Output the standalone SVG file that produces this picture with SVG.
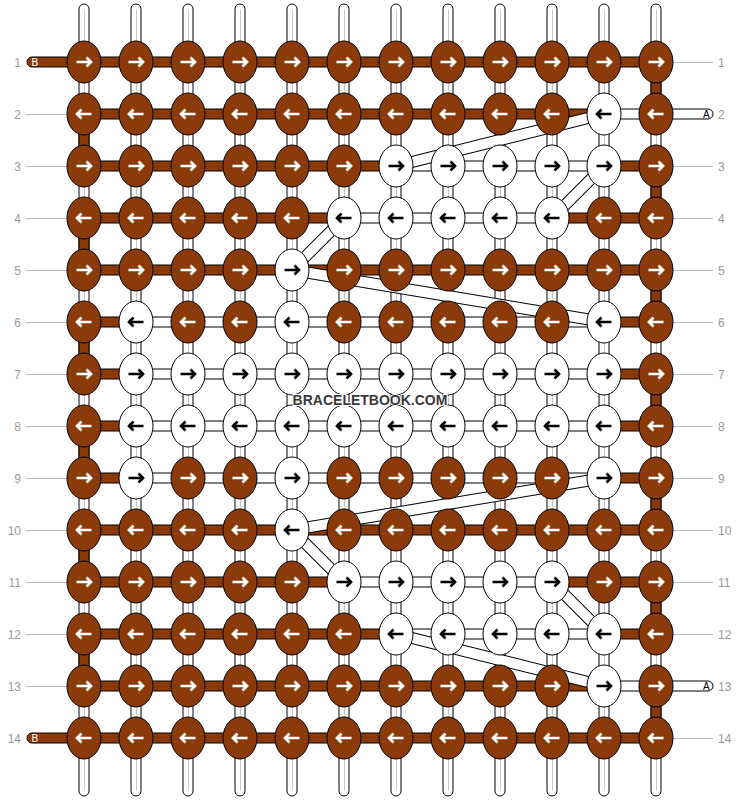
<svg xmlns="http://www.w3.org/2000/svg" width="740" height="800" viewBox="0 0 740 800">
<style>
.kb ellipse{fill:#8b3a0a;stroke:#000;stroke-width:1}
.kw ellipse{fill:#fff;stroke:#000;stroke-width:1}
.kb use{stroke:#fff}
.kw use{stroke:#000}
.sb{fill:#8b3a0a;stroke:#000;stroke-width:1}
.sw{fill:#fff;stroke:#000;stroke-width:1}
.vg{stroke:#c8c8c8;stroke-width:1}
.rl{stroke:#bbb;stroke-width:1}
.bo{fill:none;stroke:#000;stroke-width:12}
.bi{fill:none;stroke:#fff;stroke-width:10}
.lbl{font-family:"Liberation Sans",Arial,sans-serif;font-size:12px;fill:#999}
.tl{font-family:"Liberation Sans",Arial,sans-serif;font-size:10px}
.wm{font-family:"Liberation Sans",Arial,sans-serif;font-size:14px;font-weight:bold;fill:#3a3a3a;stroke:#fff;stroke-width:2;paint-order:stroke}
</style>
<defs>
<path id="ar" d="M-7.5 0H7M2.5-4.5L7 0L2.5 4.5" fill="none" stroke-width="2.6"/>
<path id="al" d="M7.5 0H-7M-2.5-4.5L-7 0L-2.5 4.5" fill="none" stroke-width="2.6"/>
</defs>
<rect width="740" height="800" fill="#fff"/>
<g id="row-labels">
<g class="rl">
<line x1="673" y1="62.5" x2="713" y2="62.5"/>
<line x1="26" y1="114.5" x2="67" y2="114.5"/>
<line x1="26" y1="166.5" x2="67" y2="166.5"/><line x1="673" y1="166.5" x2="713" y2="166.5"/>
<line x1="26" y1="218.5" x2="67" y2="218.5"/><line x1="673" y1="218.5" x2="713" y2="218.5"/>
<line x1="26" y1="270.5" x2="67" y2="270.5"/><line x1="673" y1="270.5" x2="713" y2="270.5"/>
<line x1="26" y1="322.5" x2="67" y2="322.5"/><line x1="673" y1="322.5" x2="713" y2="322.5"/>
<line x1="26" y1="374.5" x2="67" y2="374.5"/><line x1="673" y1="374.5" x2="713" y2="374.5"/>
<line x1="26" y1="426.5" x2="67" y2="426.5"/><line x1="673" y1="426.5" x2="713" y2="426.5"/>
<line x1="26" y1="478.5" x2="67" y2="478.5"/><line x1="673" y1="478.5" x2="713" y2="478.5"/>
<line x1="26" y1="530.5" x2="67" y2="530.5"/><line x1="673" y1="530.5" x2="713" y2="530.5"/>
<line x1="26" y1="582.5" x2="67" y2="582.5"/><line x1="673" y1="582.5" x2="713" y2="582.5"/>
<line x1="26" y1="634.5" x2="67" y2="634.5"/><line x1="673" y1="634.5" x2="713" y2="634.5"/>
<line x1="26" y1="686.5" x2="67" y2="686.5"/>
<line x1="673" y1="738.5" x2="713" y2="738.5"/>
</g>
<g class="lbl" text-anchor="end">
<text x="21" y="66.5">1</text><text x="21" y="118.5">2</text><text x="21" y="170.5">3</text><text x="21" y="222.5">4</text><text x="21" y="274.5">5</text><text x="21" y="326.5">6</text><text x="21" y="378.5">7</text><text x="21" y="430.5">8</text><text x="21" y="482.5">9</text><text x="21" y="534.5">10</text><text x="21" y="586.5">11</text><text x="21" y="638.5">12</text><text x="21" y="690.5">13</text><text x="21" y="742.5">14</text>
</g>
<g class="lbl">
<text x="718" y="66.5">1</text><text x="718" y="118.5">2</text><text x="718" y="170.5">3</text><text x="718" y="222.5">4</text><text x="718" y="274.5">5</text><text x="718" y="326.5">6</text><text x="718" y="378.5">7</text><text x="718" y="430.5">8</text><text x="718" y="482.5">9</text><text x="718" y="534.5">10</text><text x="718" y="586.5">11</text><text x="718" y="638.5">12</text><text x="718" y="690.5">13</text><text x="718" y="742.5">14</text>
</g>
</g>
<g id="connectors">
<g id="vertical-strands">
<rect class="sw" x="79" y="4" width="10" height="792" rx="5"/>
<rect class="sw" x="131" y="4" width="10" height="792" rx="5"/>
<rect class="sw" x="183" y="4" width="10" height="792" rx="5"/>
<rect class="sw" x="235" y="4" width="10" height="792" rx="5"/>
<rect class="sw" x="287" y="4" width="10" height="792" rx="5"/>
<rect class="sw" x="339" y="4" width="10" height="792" rx="5"/>
<rect class="sw" x="391" y="4" width="10" height="792" rx="5"/>
<rect class="sw" x="443" y="4" width="10" height="792" rx="5"/>
<rect class="sw" x="495" y="4" width="10" height="792" rx="5"/>
<rect class="sw" x="547" y="4" width="10" height="792" rx="5"/>
<rect class="sw" x="599" y="4" width="10" height="792" rx="5"/>
<rect class="sw" x="651" y="4" width="10" height="792" rx="5"/>
<g class="vg">
<line x1="84.5" y1="10" x2="84.5" y2="790"/>
<line x1="136.5" y1="10" x2="136.5" y2="790"/>
<line x1="188.5" y1="10" x2="188.5" y2="790"/>
<line x1="240.5" y1="10" x2="240.5" y2="790"/>
<line x1="292.5" y1="10" x2="292.5" y2="790"/>
<line x1="344.5" y1="10" x2="344.5" y2="790"/>
<line x1="396.5" y1="10" x2="396.5" y2="790"/>
<line x1="448.5" y1="10" x2="448.5" y2="790"/>
<line x1="500.5" y1="10" x2="500.5" y2="790"/>
<line x1="552.5" y1="10" x2="552.5" y2="790"/>
<line x1="604.5" y1="10" x2="604.5" y2="790"/>
<line x1="656.5" y1="10" x2="656.5" y2="790"/>
</g>
<rect class="sb" x="79" y="126" width="10" height="28"/>
<rect class="sb" x="79" y="230" width="10" height="28"/>
<rect class="sb" x="79" y="334" width="10" height="28"/>
<rect class="sb" x="79" y="438" width="10" height="28"/>
<rect class="sb" x="79" y="542" width="10" height="28"/>
<rect class="sb" x="79" y="646" width="10" height="28"/>
<rect class="sb" x="651" y="74" width="10" height="28"/>
<rect class="sb" x="651" y="178" width="10" height="28"/>
<rect class="sb" x="651" y="282" width="10" height="28"/>
<rect class="sb" x="651" y="386" width="10" height="28"/>
<rect class="sb" x="651" y="490" width="10" height="28"/>
<rect class="sb" x="651" y="594" width="10" height="28"/>
<rect class="sb" x="651" y="698" width="10" height="28"/>
</g>
<g id="horizontal-strands">
<rect class="sb" x="27" y="57" width="629" height="10" rx="5"/>
<rect class="sb" x="84" y="109" width="520" height="10"/>
<rect class="sw" x="604" y="109" width="109" height="10" rx="5"/>
<rect class="sb" x="84" y="161" width="312" height="10"/>
<rect class="sw" x="396" y="161" width="208" height="10"/>
<rect class="sb" x="604" y="161" width="52" height="10"/>
<rect class="sb" x="84" y="213" width="260" height="10"/>
<rect class="sw" x="344" y="213" width="208" height="10"/>
<rect class="sb" x="552" y="213" width="104" height="10"/>
<rect class="sb" x="84" y="265" width="572" height="10"/>
<rect class="sb" x="84" y="317" width="52" height="10"/>
<rect class="sw" x="136" y="317" width="468" height="10"/>
<rect class="sb" x="604" y="317" width="52" height="10"/>
<rect class="sb" x="84" y="369" width="52" height="10"/>
<rect class="sw" x="136" y="369" width="468" height="10"/>
<rect class="sb" x="604" y="369" width="52" height="10"/>
<rect class="sb" x="84" y="421" width="52" height="10"/>
<rect class="sw" x="136" y="421" width="468" height="10"/>
<rect class="sb" x="604" y="421" width="52" height="10"/>
<rect class="sb" x="84" y="473" width="52" height="10"/>
<rect class="sw" x="136" y="473" width="468" height="10"/>
<rect class="sb" x="604" y="473" width="52" height="10"/>
<rect class="sb" x="84" y="525" width="572" height="10"/>
<rect class="sb" x="84" y="577" width="260" height="10"/>
<rect class="sw" x="344" y="577" width="208" height="10"/>
<rect class="sb" x="552" y="577" width="104" height="10"/>
<rect class="sb" x="84" y="629" width="312" height="10"/>
<rect class="sw" x="396" y="629" width="208" height="10"/>
<rect class="sb" x="604" y="629" width="52" height="10"/>
<rect class="sb" x="84" y="681" width="520" height="10"/>
<rect class="sw" x="604" y="681" width="109" height="10" rx="5"/>
<rect class="sb" x="27" y="733" width="629" height="10" rx="5"/>
<text class="tl" x="31.5" y="66" fill="#fff">B</text>
<text class="tl" x="31.5" y="742" fill="#fff">B</text>
<text class="tl" x="703" y="118" fill="#000">A</text>
<text class="tl" x="703" y="690" fill="#000">A</text>
</g>
<g id="carried-strands">
<path class="bo" d="M604 114L396 166M604 166L552 218M344 218L292 270M292 270L604 322M604 478L292 530M292 530L344 582M552 582L604 634M396 634L604 686"/>
<path class="bi" d="M604 114L396 166M604 166L552 218M344 218L292 270M292 270L604 322M604 478L292 530M292 530L344 582M552 582L604 634M396 634L604 686"/>
</g>
</g>
<g id="knots">
<g id="k1-1" class="kb" transform="translate(84,62)"><ellipse rx="17" ry="21"/><use href="#ar"/></g>
<g id="k1-2" class="kb" transform="translate(136,62)"><ellipse rx="17" ry="21"/><use href="#ar"/></g>
<g id="k1-3" class="kb" transform="translate(188,62)"><ellipse rx="17" ry="21"/><use href="#ar"/></g>
<g id="k1-4" class="kb" transform="translate(240,62)"><ellipse rx="17" ry="21"/><use href="#ar"/></g>
<g id="k1-5" class="kb" transform="translate(292,62)"><ellipse rx="17" ry="21"/><use href="#ar"/></g>
<g id="k1-6" class="kb" transform="translate(344,62)"><ellipse rx="17" ry="21"/><use href="#ar"/></g>
<g id="k1-7" class="kb" transform="translate(396,62)"><ellipse rx="17" ry="21"/><use href="#ar"/></g>
<g id="k1-8" class="kb" transform="translate(448,62)"><ellipse rx="17" ry="21"/><use href="#ar"/></g>
<g id="k1-9" class="kb" transform="translate(500,62)"><ellipse rx="17" ry="21"/><use href="#ar"/></g>
<g id="k1-10" class="kb" transform="translate(552,62)"><ellipse rx="17" ry="21"/><use href="#ar"/></g>
<g id="k1-11" class="kb" transform="translate(604,62)"><ellipse rx="17" ry="21"/><use href="#ar"/></g>
<g id="k1-12" class="kb" transform="translate(656,62)"><ellipse rx="17" ry="21"/><use href="#ar"/></g>
<g id="k2-1" class="kb" transform="translate(84,114)"><ellipse rx="17" ry="21"/><use href="#al"/></g>
<g id="k2-2" class="kb" transform="translate(136,114)"><ellipse rx="17" ry="21"/><use href="#al"/></g>
<g id="k2-3" class="kb" transform="translate(188,114)"><ellipse rx="17" ry="21"/><use href="#al"/></g>
<g id="k2-4" class="kb" transform="translate(240,114)"><ellipse rx="17" ry="21"/><use href="#al"/></g>
<g id="k2-5" class="kb" transform="translate(292,114)"><ellipse rx="17" ry="21"/><use href="#al"/></g>
<g id="k2-6" class="kb" transform="translate(344,114)"><ellipse rx="17" ry="21"/><use href="#al"/></g>
<g id="k2-7" class="kb" transform="translate(396,114)"><ellipse rx="17" ry="21"/><use href="#al"/></g>
<g id="k2-8" class="kb" transform="translate(448,114)"><ellipse rx="17" ry="21"/><use href="#al"/></g>
<g id="k2-9" class="kb" transform="translate(500,114)"><ellipse rx="17" ry="21"/><use href="#al"/></g>
<g id="k2-10" class="kb" transform="translate(552,114)"><ellipse rx="17" ry="21"/><use href="#al"/></g>
<g id="k2-11" class="kw" transform="translate(604,114)"><ellipse rx="17" ry="21"/><use href="#al"/></g>
<g id="k2-12" class="kb" transform="translate(656,114)"><ellipse rx="17" ry="21"/><use href="#al"/></g>
<g id="k3-1" class="kb" transform="translate(84,166)"><ellipse rx="17" ry="21"/><use href="#ar"/></g>
<g id="k3-2" class="kb" transform="translate(136,166)"><ellipse rx="17" ry="21"/><use href="#ar"/></g>
<g id="k3-3" class="kb" transform="translate(188,166)"><ellipse rx="17" ry="21"/><use href="#ar"/></g>
<g id="k3-4" class="kb" transform="translate(240,166)"><ellipse rx="17" ry="21"/><use href="#ar"/></g>
<g id="k3-5" class="kb" transform="translate(292,166)"><ellipse rx="17" ry="21"/><use href="#ar"/></g>
<g id="k3-6" class="kb" transform="translate(344,166)"><ellipse rx="17" ry="21"/><use href="#ar"/></g>
<g id="k3-7" class="kw" transform="translate(396,166)"><ellipse rx="17" ry="21"/><use href="#ar"/></g>
<g id="k3-8" class="kw" transform="translate(448,166)"><ellipse rx="17" ry="21"/><use href="#ar"/></g>
<g id="k3-9" class="kw" transform="translate(500,166)"><ellipse rx="17" ry="21"/><use href="#ar"/></g>
<g id="k3-10" class="kw" transform="translate(552,166)"><ellipse rx="17" ry="21"/><use href="#ar"/></g>
<g id="k3-11" class="kw" transform="translate(604,166)"><ellipse rx="17" ry="21"/><use href="#ar"/></g>
<g id="k3-12" class="kb" transform="translate(656,166)"><ellipse rx="17" ry="21"/><use href="#ar"/></g>
<g id="k4-1" class="kb" transform="translate(84,218)"><ellipse rx="17" ry="21"/><use href="#al"/></g>
<g id="k4-2" class="kb" transform="translate(136,218)"><ellipse rx="17" ry="21"/><use href="#al"/></g>
<g id="k4-3" class="kb" transform="translate(188,218)"><ellipse rx="17" ry="21"/><use href="#al"/></g>
<g id="k4-4" class="kb" transform="translate(240,218)"><ellipse rx="17" ry="21"/><use href="#al"/></g>
<g id="k4-5" class="kb" transform="translate(292,218)"><ellipse rx="17" ry="21"/><use href="#al"/></g>
<g id="k4-6" class="kw" transform="translate(344,218)"><ellipse rx="17" ry="21"/><use href="#al"/></g>
<g id="k4-7" class="kw" transform="translate(396,218)"><ellipse rx="17" ry="21"/><use href="#al"/></g>
<g id="k4-8" class="kw" transform="translate(448,218)"><ellipse rx="17" ry="21"/><use href="#al"/></g>
<g id="k4-9" class="kw" transform="translate(500,218)"><ellipse rx="17" ry="21"/><use href="#al"/></g>
<g id="k4-10" class="kw" transform="translate(552,218)"><ellipse rx="17" ry="21"/><use href="#al"/></g>
<g id="k4-11" class="kb" transform="translate(604,218)"><ellipse rx="17" ry="21"/><use href="#al"/></g>
<g id="k4-12" class="kb" transform="translate(656,218)"><ellipse rx="17" ry="21"/><use href="#al"/></g>
<g id="k5-1" class="kb" transform="translate(84,270)"><ellipse rx="17" ry="21"/><use href="#ar"/></g>
<g id="k5-2" class="kb" transform="translate(136,270)"><ellipse rx="17" ry="21"/><use href="#ar"/></g>
<g id="k5-3" class="kb" transform="translate(188,270)"><ellipse rx="17" ry="21"/><use href="#ar"/></g>
<g id="k5-4" class="kb" transform="translate(240,270)"><ellipse rx="17" ry="21"/><use href="#ar"/></g>
<g id="k5-5" class="kw" transform="translate(292,270)"><ellipse rx="17" ry="21"/><use href="#ar"/></g>
<g id="k5-6" class="kb" transform="translate(344,270)"><ellipse rx="17" ry="21"/><use href="#ar"/></g>
<g id="k5-7" class="kb" transform="translate(396,270)"><ellipse rx="17" ry="21"/><use href="#ar"/></g>
<g id="k5-8" class="kb" transform="translate(448,270)"><ellipse rx="17" ry="21"/><use href="#ar"/></g>
<g id="k5-9" class="kb" transform="translate(500,270)"><ellipse rx="17" ry="21"/><use href="#ar"/></g>
<g id="k5-10" class="kb" transform="translate(552,270)"><ellipse rx="17" ry="21"/><use href="#ar"/></g>
<g id="k5-11" class="kb" transform="translate(604,270)"><ellipse rx="17" ry="21"/><use href="#ar"/></g>
<g id="k5-12" class="kb" transform="translate(656,270)"><ellipse rx="17" ry="21"/><use href="#ar"/></g>
<g id="k6-1" class="kb" transform="translate(84,322)"><ellipse rx="17" ry="21"/><use href="#al"/></g>
<g id="k6-2" class="kw" transform="translate(136,322)"><ellipse rx="17" ry="21"/><use href="#al"/></g>
<g id="k6-3" class="kb" transform="translate(188,322)"><ellipse rx="17" ry="21"/><use href="#al"/></g>
<g id="k6-4" class="kb" transform="translate(240,322)"><ellipse rx="17" ry="21"/><use href="#al"/></g>
<g id="k6-5" class="kw" transform="translate(292,322)"><ellipse rx="17" ry="21"/><use href="#al"/></g>
<g id="k6-6" class="kb" transform="translate(344,322)"><ellipse rx="17" ry="21"/><use href="#al"/></g>
<g id="k6-7" class="kb" transform="translate(396,322)"><ellipse rx="17" ry="21"/><use href="#al"/></g>
<g id="k6-8" class="kb" transform="translate(448,322)"><ellipse rx="17" ry="21"/><use href="#al"/></g>
<g id="k6-9" class="kb" transform="translate(500,322)"><ellipse rx="17" ry="21"/><use href="#al"/></g>
<g id="k6-10" class="kb" transform="translate(552,322)"><ellipse rx="17" ry="21"/><use href="#al"/></g>
<g id="k6-11" class="kw" transform="translate(604,322)"><ellipse rx="17" ry="21"/><use href="#al"/></g>
<g id="k6-12" class="kb" transform="translate(656,322)"><ellipse rx="17" ry="21"/><use href="#al"/></g>
<g id="k7-1" class="kb" transform="translate(84,374)"><ellipse rx="17" ry="21"/><use href="#ar"/></g>
<g id="k7-2" class="kw" transform="translate(136,374)"><ellipse rx="17" ry="21"/><use href="#ar"/></g>
<g id="k7-3" class="kw" transform="translate(188,374)"><ellipse rx="17" ry="21"/><use href="#ar"/></g>
<g id="k7-4" class="kw" transform="translate(240,374)"><ellipse rx="17" ry="21"/><use href="#ar"/></g>
<g id="k7-5" class="kw" transform="translate(292,374)"><ellipse rx="17" ry="21"/><use href="#ar"/></g>
<g id="k7-6" class="kw" transform="translate(344,374)"><ellipse rx="17" ry="21"/><use href="#ar"/></g>
<g id="k7-7" class="kw" transform="translate(396,374)"><ellipse rx="17" ry="21"/><use href="#ar"/></g>
<g id="k7-8" class="kw" transform="translate(448,374)"><ellipse rx="17" ry="21"/><use href="#ar"/></g>
<g id="k7-9" class="kw" transform="translate(500,374)"><ellipse rx="17" ry="21"/><use href="#ar"/></g>
<g id="k7-10" class="kw" transform="translate(552,374)"><ellipse rx="17" ry="21"/><use href="#ar"/></g>
<g id="k7-11" class="kw" transform="translate(604,374)"><ellipse rx="17" ry="21"/><use href="#ar"/></g>
<g id="k7-12" class="kb" transform="translate(656,374)"><ellipse rx="17" ry="21"/><use href="#ar"/></g>
<g id="k8-1" class="kb" transform="translate(84,426)"><ellipse rx="17" ry="21"/><use href="#al"/></g>
<g id="k8-2" class="kw" transform="translate(136,426)"><ellipse rx="17" ry="21"/><use href="#al"/></g>
<g id="k8-3" class="kw" transform="translate(188,426)"><ellipse rx="17" ry="21"/><use href="#al"/></g>
<g id="k8-4" class="kw" transform="translate(240,426)"><ellipse rx="17" ry="21"/><use href="#al"/></g>
<g id="k8-5" class="kw" transform="translate(292,426)"><ellipse rx="17" ry="21"/><use href="#al"/></g>
<g id="k8-6" class="kw" transform="translate(344,426)"><ellipse rx="17" ry="21"/><use href="#al"/></g>
<g id="k8-7" class="kw" transform="translate(396,426)"><ellipse rx="17" ry="21"/><use href="#al"/></g>
<g id="k8-8" class="kw" transform="translate(448,426)"><ellipse rx="17" ry="21"/><use href="#al"/></g>
<g id="k8-9" class="kw" transform="translate(500,426)"><ellipse rx="17" ry="21"/><use href="#al"/></g>
<g id="k8-10" class="kw" transform="translate(552,426)"><ellipse rx="17" ry="21"/><use href="#al"/></g>
<g id="k8-11" class="kw" transform="translate(604,426)"><ellipse rx="17" ry="21"/><use href="#al"/></g>
<g id="k8-12" class="kb" transform="translate(656,426)"><ellipse rx="17" ry="21"/><use href="#al"/></g>
<g id="k9-1" class="kb" transform="translate(84,478)"><ellipse rx="17" ry="21"/><use href="#ar"/></g>
<g id="k9-2" class="kw" transform="translate(136,478)"><ellipse rx="17" ry="21"/><use href="#ar"/></g>
<g id="k9-3" class="kb" transform="translate(188,478)"><ellipse rx="17" ry="21"/><use href="#ar"/></g>
<g id="k9-4" class="kb" transform="translate(240,478)"><ellipse rx="17" ry="21"/><use href="#ar"/></g>
<g id="k9-5" class="kw" transform="translate(292,478)"><ellipse rx="17" ry="21"/><use href="#ar"/></g>
<g id="k9-6" class="kb" transform="translate(344,478)"><ellipse rx="17" ry="21"/><use href="#ar"/></g>
<g id="k9-7" class="kb" transform="translate(396,478)"><ellipse rx="17" ry="21"/><use href="#ar"/></g>
<g id="k9-8" class="kb" transform="translate(448,478)"><ellipse rx="17" ry="21"/><use href="#ar"/></g>
<g id="k9-9" class="kb" transform="translate(500,478)"><ellipse rx="17" ry="21"/><use href="#ar"/></g>
<g id="k9-10" class="kb" transform="translate(552,478)"><ellipse rx="17" ry="21"/><use href="#ar"/></g>
<g id="k9-11" class="kw" transform="translate(604,478)"><ellipse rx="17" ry="21"/><use href="#ar"/></g>
<g id="k9-12" class="kb" transform="translate(656,478)"><ellipse rx="17" ry="21"/><use href="#ar"/></g>
<g id="k10-1" class="kb" transform="translate(84,530)"><ellipse rx="17" ry="21"/><use href="#al"/></g>
<g id="k10-2" class="kb" transform="translate(136,530)"><ellipse rx="17" ry="21"/><use href="#al"/></g>
<g id="k10-3" class="kb" transform="translate(188,530)"><ellipse rx="17" ry="21"/><use href="#al"/></g>
<g id="k10-4" class="kb" transform="translate(240,530)"><ellipse rx="17" ry="21"/><use href="#al"/></g>
<g id="k10-5" class="kw" transform="translate(292,530)"><ellipse rx="17" ry="21"/><use href="#al"/></g>
<g id="k10-6" class="kb" transform="translate(344,530)"><ellipse rx="17" ry="21"/><use href="#al"/></g>
<g id="k10-7" class="kb" transform="translate(396,530)"><ellipse rx="17" ry="21"/><use href="#al"/></g>
<g id="k10-8" class="kb" transform="translate(448,530)"><ellipse rx="17" ry="21"/><use href="#al"/></g>
<g id="k10-9" class="kb" transform="translate(500,530)"><ellipse rx="17" ry="21"/><use href="#al"/></g>
<g id="k10-10" class="kb" transform="translate(552,530)"><ellipse rx="17" ry="21"/><use href="#al"/></g>
<g id="k10-11" class="kb" transform="translate(604,530)"><ellipse rx="17" ry="21"/><use href="#al"/></g>
<g id="k10-12" class="kb" transform="translate(656,530)"><ellipse rx="17" ry="21"/><use href="#al"/></g>
<g id="k11-1" class="kb" transform="translate(84,582)"><ellipse rx="17" ry="21"/><use href="#ar"/></g>
<g id="k11-2" class="kb" transform="translate(136,582)"><ellipse rx="17" ry="21"/><use href="#ar"/></g>
<g id="k11-3" class="kb" transform="translate(188,582)"><ellipse rx="17" ry="21"/><use href="#ar"/></g>
<g id="k11-4" class="kb" transform="translate(240,582)"><ellipse rx="17" ry="21"/><use href="#ar"/></g>
<g id="k11-5" class="kb" transform="translate(292,582)"><ellipse rx="17" ry="21"/><use href="#ar"/></g>
<g id="k11-6" class="kw" transform="translate(344,582)"><ellipse rx="17" ry="21"/><use href="#ar"/></g>
<g id="k11-7" class="kw" transform="translate(396,582)"><ellipse rx="17" ry="21"/><use href="#ar"/></g>
<g id="k11-8" class="kw" transform="translate(448,582)"><ellipse rx="17" ry="21"/><use href="#ar"/></g>
<g id="k11-9" class="kw" transform="translate(500,582)"><ellipse rx="17" ry="21"/><use href="#ar"/></g>
<g id="k11-10" class="kw" transform="translate(552,582)"><ellipse rx="17" ry="21"/><use href="#ar"/></g>
<g id="k11-11" class="kb" transform="translate(604,582)"><ellipse rx="17" ry="21"/><use href="#ar"/></g>
<g id="k11-12" class="kb" transform="translate(656,582)"><ellipse rx="17" ry="21"/><use href="#ar"/></g>
<g id="k12-1" class="kb" transform="translate(84,634)"><ellipse rx="17" ry="21"/><use href="#al"/></g>
<g id="k12-2" class="kb" transform="translate(136,634)"><ellipse rx="17" ry="21"/><use href="#al"/></g>
<g id="k12-3" class="kb" transform="translate(188,634)"><ellipse rx="17" ry="21"/><use href="#al"/></g>
<g id="k12-4" class="kb" transform="translate(240,634)"><ellipse rx="17" ry="21"/><use href="#al"/></g>
<g id="k12-5" class="kb" transform="translate(292,634)"><ellipse rx="17" ry="21"/><use href="#al"/></g>
<g id="k12-6" class="kb" transform="translate(344,634)"><ellipse rx="17" ry="21"/><use href="#al"/></g>
<g id="k12-7" class="kw" transform="translate(396,634)"><ellipse rx="17" ry="21"/><use href="#al"/></g>
<g id="k12-8" class="kw" transform="translate(448,634)"><ellipse rx="17" ry="21"/><use href="#al"/></g>
<g id="k12-9" class="kw" transform="translate(500,634)"><ellipse rx="17" ry="21"/><use href="#al"/></g>
<g id="k12-10" class="kw" transform="translate(552,634)"><ellipse rx="17" ry="21"/><use href="#al"/></g>
<g id="k12-11" class="kw" transform="translate(604,634)"><ellipse rx="17" ry="21"/><use href="#al"/></g>
<g id="k12-12" class="kb" transform="translate(656,634)"><ellipse rx="17" ry="21"/><use href="#al"/></g>
<g id="k13-1" class="kb" transform="translate(84,686)"><ellipse rx="17" ry="21"/><use href="#ar"/></g>
<g id="k13-2" class="kb" transform="translate(136,686)"><ellipse rx="17" ry="21"/><use href="#ar"/></g>
<g id="k13-3" class="kb" transform="translate(188,686)"><ellipse rx="17" ry="21"/><use href="#ar"/></g>
<g id="k13-4" class="kb" transform="translate(240,686)"><ellipse rx="17" ry="21"/><use href="#ar"/></g>
<g id="k13-5" class="kb" transform="translate(292,686)"><ellipse rx="17" ry="21"/><use href="#ar"/></g>
<g id="k13-6" class="kb" transform="translate(344,686)"><ellipse rx="17" ry="21"/><use href="#ar"/></g>
<g id="k13-7" class="kb" transform="translate(396,686)"><ellipse rx="17" ry="21"/><use href="#ar"/></g>
<g id="k13-8" class="kb" transform="translate(448,686)"><ellipse rx="17" ry="21"/><use href="#ar"/></g>
<g id="k13-9" class="kb" transform="translate(500,686)"><ellipse rx="17" ry="21"/><use href="#ar"/></g>
<g id="k13-10" class="kb" transform="translate(552,686)"><ellipse rx="17" ry="21"/><use href="#ar"/></g>
<g id="k13-11" class="kw" transform="translate(604,686)"><ellipse rx="17" ry="21"/><use href="#ar"/></g>
<g id="k13-12" class="kb" transform="translate(656,686)"><ellipse rx="17" ry="21"/><use href="#ar"/></g>
<g id="k14-1" class="kb" transform="translate(84,738)"><ellipse rx="17" ry="21"/><use href="#al"/></g>
<g id="k14-2" class="kb" transform="translate(136,738)"><ellipse rx="17" ry="21"/><use href="#al"/></g>
<g id="k14-3" class="kb" transform="translate(188,738)"><ellipse rx="17" ry="21"/><use href="#al"/></g>
<g id="k14-4" class="kb" transform="translate(240,738)"><ellipse rx="17" ry="21"/><use href="#al"/></g>
<g id="k14-5" class="kb" transform="translate(292,738)"><ellipse rx="17" ry="21"/><use href="#al"/></g>
<g id="k14-6" class="kb" transform="translate(344,738)"><ellipse rx="17" ry="21"/><use href="#al"/></g>
<g id="k14-7" class="kb" transform="translate(396,738)"><ellipse rx="17" ry="21"/><use href="#al"/></g>
<g id="k14-8" class="kb" transform="translate(448,738)"><ellipse rx="17" ry="21"/><use href="#al"/></g>
<g id="k14-9" class="kb" transform="translate(500,738)"><ellipse rx="17" ry="21"/><use href="#al"/></g>
<g id="k14-10" class="kb" transform="translate(552,738)"><ellipse rx="17" ry="21"/><use href="#al"/></g>
<g id="k14-11" class="kb" transform="translate(604,738)"><ellipse rx="17" ry="21"/><use href="#al"/></g>
<g id="k14-12" class="kb" transform="translate(656,738)"><ellipse rx="17" ry="21"/><use href="#al"/></g>
</g>
<text class="wm" x="370" y="405" text-anchor="middle">BRACELETBOOK.COM</text>
</svg>
